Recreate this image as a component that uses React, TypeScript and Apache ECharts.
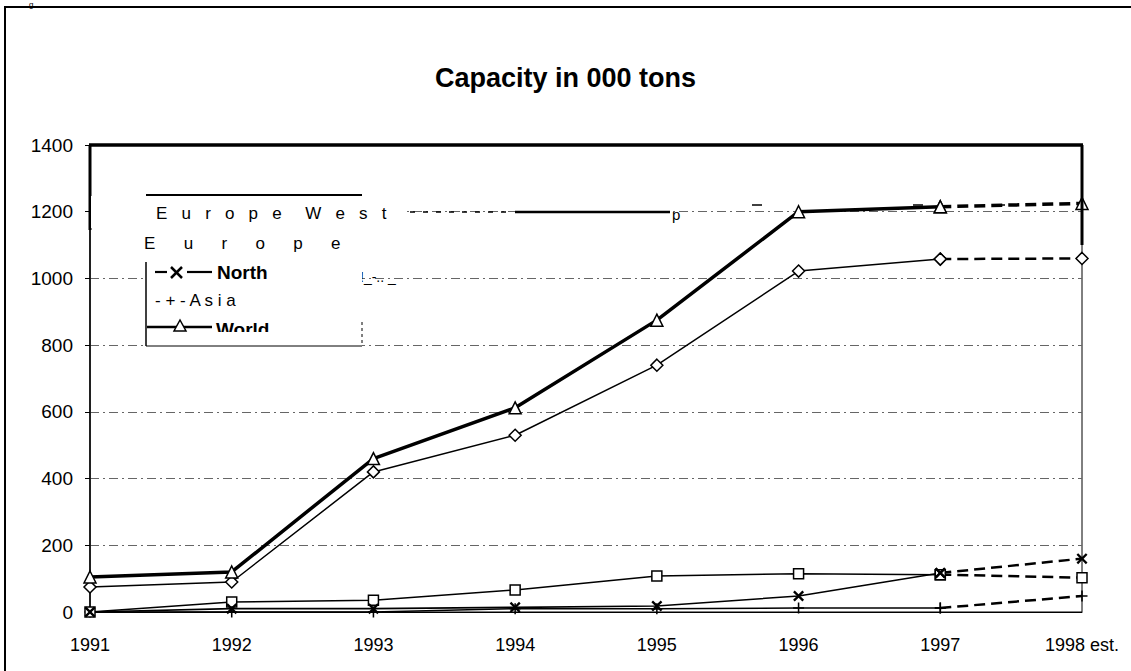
import React, { useEffect, useRef } from "react";
import * as echarts from "echarts";

// Capacity in 000 tons, 1991 - 1998 (1998 estimated)
const years = ["1991", "1992", "1993", "1994", "1995", "1996", "1997", "1998 est."];
const europeWest = [75, 90, 420, 530, 740, 1022, 1058, 1060];
const europe = [0, 30, 35, 66, 108, 115, 112, 103];
const north = [0, 10, 10, 14, 18, 48, 117, 160];
const asia = [0, 0, 0, 10, 10, 12, 12, 48];
const world = [105, 120, 460, 612, 875, 1200, 1215, 1225];

const yMin = 0;
const yMax = 1400;
const yStep = 200;

// Index from which values are estimates (drawn dashed)
const estimateFrom = 6;

const FONT = '"Liberation Sans", Arial, sans-serif';
const X_PATH =
  "path://M0,1.5 L1.5,0 L5,3.5 L8.5,0 L10,1.5 L6.5,5 L10,8.5 L8.5,10 L5,6.5 L1.5,10 L0,8.5 L3.5,5 Z";
const PLUS_PATH =
  "path://M4.3,0 L5.7,0 L5.7,4.3 L10,4.3 L10,5.7 L5.7,5.7 L5.7,10 L4.3,10 L4.3,5.7 L0,5.7 L0,4.3 L4.3,4.3 Z";

const solidPart = (arr: number[]) => arr.map((v, i) => (i <= estimateFrom ? v : null));
const dashedPart = (arr: number[]) => arr.map((v, i) => (i >= estimateFrom ? v : null));

type SeriesDef = {
  name: string;
  data: number[];
  symbol: string;
  symbolSize: number;
  width: number;
  hollow: boolean;
  z: number;
};

const defs: SeriesDef[] = [
  { name: "Europe West", data: europeWest, symbol: "diamond", symbolSize: 12, width: 1.5, hollow: true, z: 4 },
  { name: "Europe", data: europe, symbol: "rect", symbolSize: 10, width: 1.5, hollow: true, z: 3 },
  { name: "North", data: north, symbol: X_PATH, symbolSize: 11, width: 1.6, hollow: false, z: 3 },
  { name: "Asia", data: asia, symbol: PLUS_PATH, symbolSize: 11, width: 1.5, hollow: false, z: 2 },
  { name: "World", data: world, symbol: "triangle", symbolSize: 12, width: 3.5, hollow: true, z: 5 },
];

function buildSeries() {
  const out: any[] = [];
  defs.forEach((d) => {
    const itemStyle = d.hollow
      ? { color: "#fff", borderColor: "#000", borderWidth: 1.5 }
      : { color: "#000", borderWidth: 0 };
    out.push({
      name: d.name,
      type: "line",
      data: solidPart(d.data),
      symbol: d.symbol,
      symbolSize: d.symbolSize,
      showAllSymbol: true,
      itemStyle,
      lineStyle: { color: "#000", width: d.width },
      z: d.z,
      connectNulls: false,
    });
    out.push({
      name: d.name + " est.",
      type: "line",
      data: dashedPart(d.data),
      symbol: d.symbol,
      symbolSize: d.symbolSize,
      showAllSymbol: true,
      itemStyle,
      lineStyle: { color: "#000", width: Math.max(2.5, d.width), type: [11, 6] },
      z: d.z,
      connectNulls: false,
    });
  });
  return out;
}

const txt = (text: string, x: number, y: number, size: number, weight: string | number = "normal", z = 110) => ({
  type: "text",
  x,
  y,
  z,
  silent: true,
  style: {
    text,
    fill: "#000",
    font: `${weight} ${size}px ${FONT}`,
    align: "left",
    verticalAlign: "middle",
    textAlign: "left",
    textVerticalAlign: "middle",
  },
});

const ln = (x1: number, y1: number, x2: number, y2: number, w: number, dash?: number[], z = 110) => ({
  type: "line",
  z,
  silent: true,
  shape: { x1, y1, x2, y2 },
  style: { stroke: "#000", lineWidth: w, lineDash: dash },
});

const whiteRect = (x: number, y: number, width: number, height: number, z = 105) => ({
  type: "rect",
  z,
  silent: true,
  shape: { x, y, width, height },
  style: { fill: "#fff", stroke: "none" },
});

function buildGraphic() {
  return [
    // outer frame and the small caption letter above it
    {
      type: "rect",
      z: 1,
      silent: true,
      shape: { x: 5, y: 7, width: 1140, height: 700 },
      style: { fill: "none", stroke: "#000", lineWidth: 2 },
    },
    {
      type: "text",
      x: 29,
      y: 0,
      z: 1,
      silent: true,
      style: { text: "g", fill: "#000", font: `8px ${FONT}` },
    },
    // heavier parts of the plot frame
    ln(89, 145, 1083, 145, 3.5, undefined, 50),
    ln(90, 145, 90, 230, 3, undefined, 50),
    ln(1082, 145, 1082, 245, 3, undefined, 50),

    // legend box
    whiteRect(91, 196, 314, 32),
    whiteRect(146, 228, 216, 118),
    ln(146, 195, 362, 195, 2),
    ln(146, 262, 146, 346, 1.5),
    ln(146, 346, 362, 346, 1),
    ln(362, 322, 362, 346, 1, [3, 3]),

    txt("E   u   r   o   p   e     W   e   s   t", 156, 213, 17),
    ln(410, 212, 512, 212, 1.5, [5, 8], 60),
    ln(515, 212, 670, 212, 2.5, undefined, 60),
    txt("p", 672, 214, 15, "normal", 60),
    ln(752, 205, 762, 205, 1.5, undefined, 60),
    ln(913, 205, 923, 205, 1.5, undefined, 60),
    ln(995, 205, 1005, 205, 1.5, undefined, 60),

    txt("E      u      r      o      p      e", 144, 243, 17),

    ln(155, 272, 167, 272, 2.2),
    ln(171, 267, 182, 278, 2.5),
    ln(182, 267, 171, 278, 2.5),
    ln(187, 272, 212, 272, 2.2),
    txt("North", 217, 272, 19, "bold"),
    txt("!_-.. _", 360, 277, 14, "normal", 60),

    txt("- + - A s i a", 155, 300, 17),

    ln(147, 327, 212, 327, 2.5),
    {
      type: "polygon",
      z: 111,
      silent: true,
      shape: { points: [[180, 320], [174, 331], [186, 331]] },
      style: { fill: "#fff", stroke: "#000", lineWidth: 1.5 },
    },
    txt("World", 216, 329, 19, "bold"),
    whiteRect(147, 332, 214, 13, 115),
  ];
}

export default function App() {
  const ref = useRef<HTMLDivElement | null>(null);

  useEffect(() => {
    if (!ref.current) return;
    const chart = echarts.init(ref.current, undefined, { renderer: "svg" });
    chart.setOption({
      animation: false,
      backgroundColor: "#fff",
      title: {
        text: "Capacity in 000 tons",
        left: "center",
        top: 59,
        textStyle: { fontFamily: FONT, fontSize: 27, fontWeight: "bold", color: "#000" },
      },
      grid: {
        left: 90,
        right: 49,
        top: 145,
        bottom: 59,
        show: true,
        borderColor: "#000",
        borderWidth: 1,
        backgroundColor: "transparent",
      },
      xAxis: {
        type: "category",
        data: years,
        boundaryGap: false,
        axisLine: { show: true, lineStyle: { color: "#000", width: 1 } },
        axisTick: { show: false },
        axisLabel: { color: "#000", fontFamily: FONT, fontSize: 18, margin: 24 },
        splitLine: { show: false },
      },
      yAxis: {
        type: "value",
        min: yMin,
        max: yMax,
        interval: yStep,
        axisLine: { show: true, lineStyle: { color: "#000", width: 1.5 } },
        axisTick: { show: true, length: 5, lineStyle: { color: "#000", width: 1 } },
        axisLabel: {
          color: "#000",
          fontFamily: FONT,
          fontSize: 19,
          margin: 17,
          formatter: (v: number) => String(v),
        },
        splitLine: { show: true, lineStyle: { color: "#666", width: 1, type: [9, 4, 2, 4] } },
      },
      series: buildSeries(),
      graphic: buildGraphic(),
    });
    return () => chart.dispose();
  }, []);

  return (
    <div
      ref={ref}
      style={{ position: "absolute", left: 0, top: 0, width: 1131, height: 671, background: "#fff" }}
    />
  );
}
